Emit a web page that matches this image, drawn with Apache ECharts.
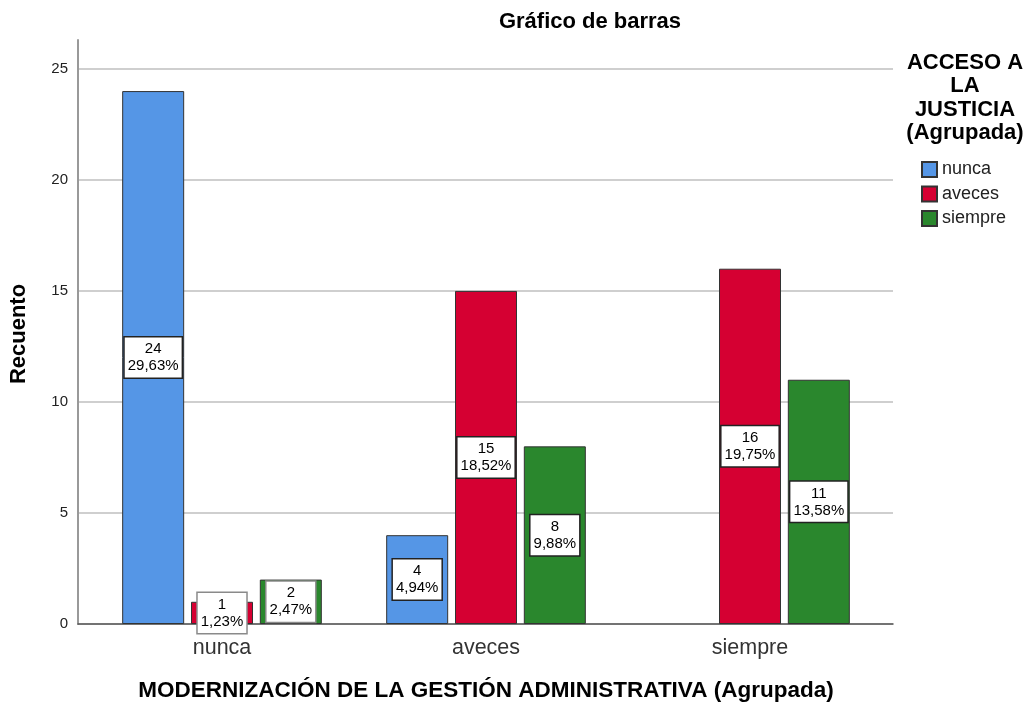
<!DOCTYPE html>
<html>
<head>
<meta charset="utf-8">
<script src="https://cdn.jsdelivr.net/npm/echarts@6/dist/echarts.min.js"></script>
<style>html,body{margin:0;padding:0;background:#fff}#c{width:1028px;height:706px}</style>
</head>
<body>
<div id="c"></div>
<script>
const categories = ['nunca', 'aveces', 'siempre'];
const seriesNames = ['nunca', 'aveces', 'siempre'];
const nuncaValues = [24, 4, 0];
const avecesValues = [1, 15, 16];
const siempreValues = [2, 8, 11];
const nuncaPct = ['29,63%', '4,94%', '0,00%'];
const avecesPct = ['1,23%', '18,52%', '19,75%'];
const siemprePct = ['2,47%', '9,88%', '13,58%'];
const yTicks = [0, 5, 10, 15, 20, 25];
const yMax = 26.3;

const colors = ['#5596E6', '#D50032', '#2A872D'];
const FONT = '"Liberation Sans", Arial, sans-serif';

const chart = echarts.init(document.getElementById('c'), null, {renderer: 'canvas'});

function makeSeries(name, values, pcts, color) {
  return {
    name: name,
    type: 'bar',
    xAxisIndex: 1,
    yAxisIndex: 1,
    barWidth: 62,
    barGap: '11%',
    itemStyle: {color: color, borderColor: '#333', borderWidth: 1},
    data: values.map(v => ({
      value: v,
      itemStyle: v > 0 ? {} : {borderWidth: 0},
      label: {show: v > 0, borderColor: v < 3 ? '#8a8a8a' : '#222'}
    })),
    label: {
      show: true,
      position: 'inside',
      formatter: p => values[p.dataIndex] + '\n' + pcts[p.dataIndex],
      backgroundColor: '#fff',
      borderColor: '#222',
      borderWidth: 1.5,
      padding: [3, 3, 3, 3],
      fontFamily: FONT,
      fontSize: 15,
      lineHeight: 17,
      color: '#000',
      align: 'center'
    },
    emphasis: {disabled: true}
  };
}

const gridColors = yTicks.map(() => '#cfcfcf').concat(['rgba(0,0,0,0)']);

const option = {
  animation: false,
  backgroundColor: '#fff',
  textStyle: {fontFamily: FONT},
  grid: [
    {left: 78, right: 1028 - 893, top: 40, bottom: 706 - 624, containLabel: false},
    {left: 90, right: 1028 - 882, top: 40, bottom: 706 - 624, containLabel: false}
  ],
  xAxis: [
    {
      gridIndex: 0, type: 'value', min: 0, max: 1, position: 'bottom',
      axisLine: {show: true, onZero: false, lineStyle: {color: '#555', width: 1.5}},
      axisTick: {show: false}, axisLabel: {show: false}, splitLine: {show: false}
    },
    {
      gridIndex: 1, type: 'category', data: categories,
      axisLine: {show: false}, axisTick: {show: false},
      axisLabel: {fontFamily: FONT, fontSize: 21.5, color: '#333', margin: 13}
    }
  ],
  yAxis: [
    {
      gridIndex: 0, type: 'value', min: 0, max: yMax, interval: 5,
      axisLine: {show: true, lineStyle: {color: '#999', width: 2}},
      axisTick: {show: false},
      axisLabel: {
        fontFamily: FONT, fontSize: 15, color: '#222', margin: 10,
        formatter: v => (yTicks.indexOf(v) >= 0 ? String(v) : '')
      },
      splitLine: {show: true, lineStyle: {color: gridColors, width: 2}}
    },
    {
      gridIndex: 1, type: 'value', min: 0, max: yMax, interval: 5,
      axisLine: {show: false}, axisTick: {show: false}, axisLabel: {show: false}, splitLine: {show: false}
    }
  ],
  legend: {
    orient: 'vertical',
    left: 921, top: 160,
    padding: 0,
    data: seriesNames,
    icon: 'rect',
    itemWidth: 15, itemHeight: 15, itemGap: 5.5,
    textStyle: {fontFamily: FONT, fontSize: 18, color: '#222', lineHeight: 19},
    selectedMode: false
  },
  graphic: [
    {type: 'text', x: 590, y: 22,
     style: {text: 'Gráfico de barras', fontFamily: FONT, fontSize: 22, fontWeight: 'bold', fill: '#000', align: 'center', verticalAlign: 'middle'}},
    {type: 'text', x: 965, y: 98,
     style: {text: 'ACCESO A\nLA\nJUSTICIA\n(Agrupada)', fontFamily: FONT, fontSize: 22, fontWeight: 'bold', lineHeight: 23.5, fill: '#000', align: 'center', verticalAlign: 'middle'}},
    {type: 'text', x: 486, y: 691,
     style: {text: 'MODERNIZACIÓN DE LA GESTIÓN ADMINISTRATIVA (Agrupada)', fontFamily: FONT, fontSize: 22.5, fontWeight: 'bold', fill: '#000', align: 'center', verticalAlign: 'middle'}},
    {type: 'text', x: 19, y: 334, rotation: Math.PI / 2,
     style: {text: 'Recuento', fontFamily: FONT, fontSize: 22, fontWeight: 'bold', fill: '#000', align: 'center', verticalAlign: 'middle'}}
  ],
  series: [
    makeSeries(seriesNames[0], nuncaValues, nuncaPct, colors[0]),
    makeSeries(seriesNames[1], avecesValues, avecesPct, colors[1]),
    makeSeries(seriesNames[2], siempreValues, siemprePct, colors[2])
  ]
};
chart.setOption(option);
</script>
</body>
</html>
